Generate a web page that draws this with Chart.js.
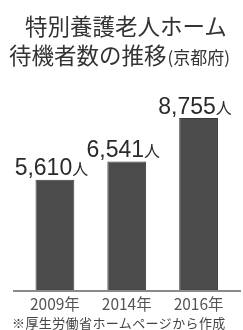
<!DOCTYPE html>
<html><head><meta charset="utf-8">
<script src="https://cdn.jsdelivr.net/npm/chart.js@4"></script>
<style>
html,body{margin:0;padding:0;background:#fff;}
#wrap{position:relative;width:243px;height:330px;overflow:hidden;}
#c{position:absolute;left:0;top:0;}
.t{position:absolute;left:0;white-space:nowrap;color:#333;font-family:"Noto Sans CJK JP",sans-serif;}
#t1{top:11px;font-size:22.5px;line-height:28px;left:25px;}
#t2{top:40px;font-size:22.5px;line-height:28px;left:9px;}
#t2 span{font-size:17px;margin-left:1px;}
#fn{top:314px;left:12px;font-size:13px;line-height:17px;color:#444;letter-spacing:0.4px;}
</style></head>
<body><div id="wrap">
<canvas id="c" width="243" height="330"></canvas>
<div class="t" id="t1">特別養護老人ホーム</div>
<div class="t" id="t2">待機者数の推移<span>(京都府)</span></div>
<div class="t" id="fn">※厚生労働省ホームページから作成</div>
</div>
<script>
const categories = ["2009年", "2014年", "2016年"];
const values = [5610, 6541, 8755];
const unit = "人";

const labelPlugin = {
  id: 'vlabels',
  beforeDatasetsDraw(chart) {
    const ctx = chart.ctx, y0 = chart.scales.y.getPixelForValue(0);
    ctx.save();
    ctx.strokeStyle = '#8a8a8a';
    ctx.lineWidth = 2;
    ctx.beginPath(); ctx.moveTo(13, y0 + 1); ctx.lineTo(241, y0 + 1); ctx.stroke();
    ctx.restore();
  },
  afterDatasetsDraw(chart) {
    const ctx = chart.ctx;
    const meta = chart.getDatasetMeta(0);
    ctx.save();
    ctx.fillStyle = '#2a2a2a';
    ctx.textBaseline = 'alphabetic';
    meta.data.forEach((bar, i) => {
      const num = values[i].toLocaleString('en-US');
      ctx.font = '23px "Liberation Sans", Arial, sans-serif';
      const w1 = ctx.measureText(num).width;
      ctx.font = '16px "Noto Sans CJK JP", sans-serif';
      const w2 = ctx.measureText(unit).width;
      const x = bar.x - 3.5 - (w1 + w2) / 2;
      const y = bar.y - 4.5;
      ctx.font = '23px "Liberation Sans", Arial, sans-serif';
      ctx.textAlign = 'left';
      ctx.fillText(num, x, y);
      ctx.font = '16px "Noto Sans CJK JP", sans-serif';
      ctx.fillText(unit, x + w1, y);
    });
    ctx.restore();
  }
};

new Chart(document.getElementById('c'), {
  type: 'bar',
  data: {
    labels: categories,
    datasets: [{
      data: values,
      backgroundColor: '#4b4b4b',
      borderColor: '#3a3a3a',
      borderWidth: 1,
      barPercentage: 0.54,
      categoryPercentage: 1.0
    }]
  },
  options: {
    responsive: false,
    animation: false,
    events: [],
    layout: { padding: { left: 19, right: 8.5, top: 74, bottom: 0 } },
    plugins: { legend: { display: false }, tooltip: { enabled: false }, title: { display: false } },
    scales: {
      x: {
        grid: { display: false, drawTicks: false },
        border: { display: false },
        afterFit: s => { s.height = 40; },
        ticks: { color: '#555', font: { size: 15.5, family: '"Liberation Sans Narrow", "Noto Sans CJK JP", sans-serif' }, padding: 5 }
      },
      y: { display: false, min: 0, max: 11000 }
    }
  },
  plugins: [labelPlugin]
});
</script>
</body></html>
